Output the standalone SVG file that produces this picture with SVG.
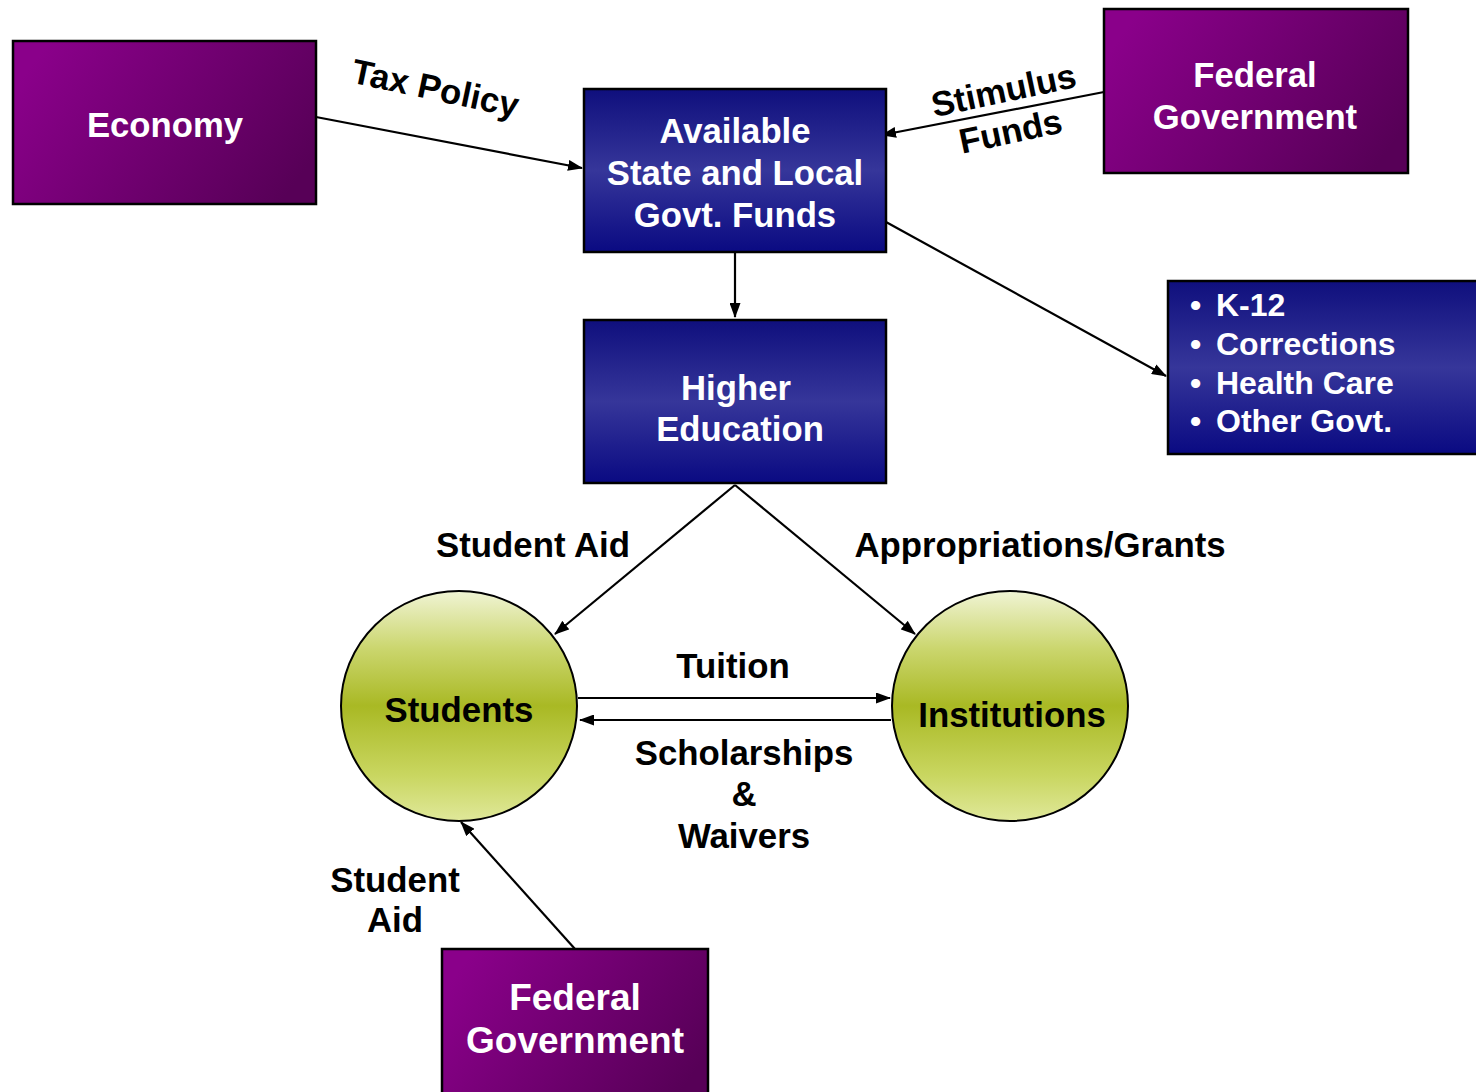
<svg xmlns="http://www.w3.org/2000/svg" width="1476" height="1092" viewBox="0 0 1476 1092">
<style>
text{font-family:"Liberation Sans",Arial,sans-serif;font-weight:bold}
.w{fill:#fff;font-size:34.7px;text-anchor:middle}
.b{fill:#000;font-size:34.8px;text-anchor:middle}
.lst{fill:#fff;font-size:32px}
.box{stroke:#000;stroke-width:2.5}
.pur{fill:url(#gp)}
.blu{fill:url(#gb)}
.circ{fill:url(#gc);stroke:#000;stroke-width:2}
.con line{stroke:#000;stroke-width:2.2;fill:none;marker-end:url(#ah)}
</style>
<defs>
<linearGradient id="gp" x1="0" y1="0.3" x2="1" y2="0.7">
<stop offset="0" stop-color="#8a008a"/><stop offset="1" stop-color="#570057"/>
</linearGradient>
<linearGradient id="gb" x1="0" y1="0" x2="0" y2="1">
<stop offset="0" stop-color="#0f0f7d"/><stop offset="0.5" stop-color="#36369a"/><stop offset="1" stop-color="#0a0a82"/>
</linearGradient>
<linearGradient id="gc" x1="0" y1="0" x2="0" y2="1">
<stop offset="0" stop-color="#f0f4d4"/><stop offset="0.25" stop-color="#cbd66e"/><stop offset="0.5" stop-color="#a9b924"/><stop offset="0.8" stop-color="#c9d660"/><stop offset="1" stop-color="#e0e89a"/>
</linearGradient>
<marker id="ah" viewBox="0 0 15 11" refX="14" refY="5.5" markerWidth="15" markerHeight="11" markerUnits="userSpaceOnUse" orient="auto">
<path d="M0,0 L15,5.5 L0,11 z" fill="#000"/>
</marker>
</defs>

<g id="connectors" class="con">
<line x1="316" y1="117" x2="582" y2="168"/>
<line x1="1104" y1="92" x2="882" y2="135"/>
<line x1="735" y1="253" x2="735" y2="317"/>
<line x1="886" y1="222" x2="1166" y2="376"/>
<line x1="735" y1="485" x2="555" y2="634"/>
<line x1="735" y1="485" x2="915" y2="634"/>
<line x1="578" y1="698" x2="890" y2="698"/>
<line x1="891" y1="720" x2="580" y2="720"/>
<line x1="575" y1="949" x2="461" y2="822"/>
</g>

<g id="labels">
<text class="b" transform="translate(433,100) rotate(12)">Tax Policy</text>
<text class="b" transform="translate(1006,102) rotate(-12)">Stimulus</text>
<text class="b" transform="translate(1013,143) rotate(-12)">Funds</text>
<text class="b" x="533" y="557">Student Aid</text>
<text class="b" x="1040" y="557">Appropriations/Grants</text>
<text class="b" x="733" y="678">Tuition</text>
<text class="b" x="744" y="765">Scholarships</text>
<text class="b" x="744" y="806">&amp;</text>
<text class="b" x="744" y="848">Waivers</text>
<text class="b" x="395" y="892">Student</text>
<text class="b" x="395" y="932">Aid</text>
</g>

<g id="economy">
<rect class="box pur" x="13" y="41" width="303" height="163"/>
<text class="w" x="165" y="137">Economy</text>
</g>

<g id="available">
<rect class="box blu" x="584" y="89" width="302" height="163"/>
<text class="w" x="735" y="143">Available</text>
<text class="w" x="735" y="185">State and Local</text>
<text class="w" x="735" y="227">Govt. Funds</text>
</g>

<g id="fed-top">
<rect class="box pur" x="1104" y="9" width="304" height="164"/>
<text class="w" x="1255" y="87">Federal</text>
<text class="w" x="1255" y="129">Government</text>
</g>

<g id="higher-ed">
<rect class="box blu" x="584" y="320" width="302" height="163"/>
<text class="w" x="736" y="400">Higher</text>
<text class="w" x="740" y="441">Education</text>
</g>

<g id="other-spending">
<rect class="box blu" x="1168" y="281" width="312" height="173"/>
<text class="lst" x="1190" y="316">•</text><text class="lst" x="1216" y="316">K-12</text>
<text class="lst" x="1190" y="355">•</text><text class="lst" x="1216" y="355">Corrections</text>
<text class="lst" x="1190" y="394">•</text><text class="lst" x="1216" y="394">Health Care</text>
<text class="lst" x="1190" y="432">•</text><text class="lst" x="1216" y="432">Other Govt.</text>
</g>

<g id="students">
<ellipse class="circ" cx="459" cy="706" rx="118" ry="115"/>
<text class="b" x="459" y="722">Students</text>
</g>

<g id="institutions">
<ellipse class="circ" cx="1010" cy="706" rx="118" ry="115"/>
<text class="b" x="1012" y="727">Institutions</text>
</g>

<g id="fed-bottom">
<rect class="box pur" x="442" y="949" width="266" height="150"/>
<text class="w" x="575" y="1010" style="font-size:37px">Federal</text>
<text class="w" x="575" y="1053" style="font-size:37px">Government</text>
</g>
</svg>
